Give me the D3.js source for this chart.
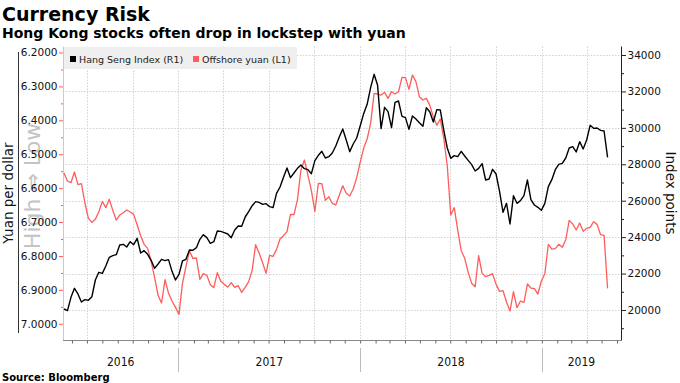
<!DOCTYPE html>
<html><head><meta charset="utf-8">
<script src="https://cdn.jsdelivr.net/npm/d3@7"></script>
<style>body{margin:0;background:#fff}svg{display:block}text{font-family:"DejaVu Sans",sans-serif}</style>
</head><body><svg id="c" width="680" height="383"></svg>
<script>
// ---- data (weekly readings, starting Monday 2016-05-16) ----
const startDate = "2016-05-16";
const hsi = [20055,19964,20696,21190,20879,20440,20568,20531,20733,21647,22068,22013,22416,22892,22983,23038,23569,23606,23459,23752,23587,23935,23130,23258,23057,22727,22288,22526,22782,22709,22764,22123,21647,21958,22691,22782,23294,23280,23423,23880,24136,
23972,23661,23752,24337,24319,24246,24173,23972,24393,24612,24600,25106,25399,25728,25948,25911,25802,25838,25674,25619,26406,26753,27284,27796,27265,27522,27778,27961,27760,27705,27485,28199,28492,28711,28345,28418,28620,29004,29498,29937,
29333,28693,29114,29443,30102,30779,31292,32207,32939,32335,29956,31127,30889,30011,31401,31475,30633,30560,29919,30651,30486,30285,30084,31109,30871,30322,30999,30980,29864,28894,28327,28473,28418,28711,28455,28217,27979,27632,27778,28034,
27137,27193,27723,27467,26515,25362,25857,24722,26277,25857,26003,26277,27137,26058,25765,25637,25472,25857,26772,27156,27705,27998,28053,28345,28894,28968,28675,29242,28840,29334,30139,29974,29990,29864,29828,28382];
const cnh = [6.5554,6.5790,6.5839,6.5524,6.5898,6.5868,6.6438,6.6891,6.7009,6.6920,6.6694,6.6389,6.6576,6.6330,6.6655,6.6940,6.6792,6.6723,6.6645,6.6704,6.6773,6.7087,6.7402,6.7657,6.7775,6.8149,6.8631,6.9161,6.9387,6.8699,6.9102,6.9328,6.9515,6.9722,6.8807,6.8316,6.7854,6.8070,6.8060,6.8690,6.8522,
6.8572,6.8847,6.8935,6.8493,6.8748,6.8837,6.8916,6.8788,6.8926,6.8876,6.9073,6.8926,6.8758,6.8424,6.7667,6.7913,6.8198,6.8513,6.7982,6.8011,6.7805,6.7500,6.7402,6.7284,6.6773,6.6780,6.6340,6.5465,6.5170,6.5613,6.6075,6.6684,6.5858,6.5870,6.6360,6.6252,6.6448,6.6497,6.6212,6.5927,
6.6153,6.6232,6.6026,6.5691,6.5239,6.4826,6.4551,6.4089,6.3204,6.3224,6.3254,6.3175,6.3352,6.3155,6.3224,6.3155,6.2733,6.2740,6.3086,6.2664,6.2860,6.3303,6.3401,6.3352,6.3558,6.3902,6.4148,6.3961,6.4541,6.5347,6.6792,6.6576,6.7235,6.7844,6.8070,6.8483,6.8807,6.8906,6.7991,6.8513,
6.8611,6.8572,6.8522,6.8837,6.9043,6.9024,6.9358,6.9623,6.9053,6.9525,6.9328,6.9368,6.8827,6.8945,6.8965,6.9122,6.8739,6.8522,6.7657,6.7795,6.7785,6.7657,6.7746,6.7520,6.6950,6.7058,6.7235,6.7028,6.7274,6.7186,6.7156,6.6989,6.7068,6.7372,6.7392,6.8955];
const leftTicks = [6.2,6.3,6.4,6.5,6.6,6.7,6.8,6.9,7.0];
const leftMinor = [6.25,6.35,6.45,6.55,6.65,6.75,6.85,6.95];
const rightTicks = [20000,22000,24000,26000,28000,30000,32000,34000];
const rightMinor = [19000,21000,23000,25000,27000,29000,31000,33000];
const xStart = "2016-05-14", xEnd = "2019-06-09";
const seriesNames = ["Hang Seng Index (R1)", "Offshore yuan (L1)"];
const title = "Currency Risk";
const subtitle = "Hong Kong stocks often drop in lockstep with yuan";
const source = "Source: Bloomberg";

// ---- layout ----
const X0 = 63, X1 = 621, Y0 = 46.5, Y1 = 340;
const RED = "#ff5c5c", BLACK = "#000";
const svg = d3.select("#c");
const parse = d3.utcParse("%Y-%m-%d");
const t0 = parse(startDate);
const dates = hsi.map((_, i) => d3.utcDay.offset(t0, 7 * i));
const x = d3.scaleUtc().domain([parse(xStart), parse(xEnd)]).range([X0, X1]);
const yL = d3.scaleLinear().domain([6.2, 7.0]).range([52.5, 323.8]);
const yR = d3.scaleLinear().domain([20000, 34000]).range([310, 55]);
const px = v => Math.round(v) + 0.5;

// titles
svg.append("text").attr("x", 2).attr("y", 21).attr("font-weight", "bold").attr("font-size", 19).text(title);
svg.append("text").attr("x", 2).attr("y", 38).attr("font-weight", "bold").attr("font-size", 14).text(subtitle);

// watermark
svg.append("text").attr("transform", "translate(40,186) rotate(-90)").attr("text-anchor", "middle")
  .attr("font-size", 22).attr("fill", "#c4c4c4").text("High \u21D2 Low");

// grid
const grid = svg.append("g").attr("stroke", "#d2d2d2").attr("stroke-dasharray", "1.5,1.5").attr("stroke-width", 1);
rightTicks.forEach(v => grid.append("line").attr("x1", X0).attr("x2", X1).attr("y1", px(yR(v))).attr("y2", px(yR(v))));
d3.utcMonth.every(3).range(x.domain()[0], x.domain()[1]).forEach(d =>
  grid.append("line").attr("x1", px(x(d))).attr("x2", px(x(d))).attr("y1", Y0).attr("y2", Y1));

// legend
svg.append("rect").attr("x", 64).attr("y", 47).attr("width", 233).attr("height", 22).attr("fill", "#efefef");
const lg = [[70, BLACK, 79], [193, RED, 202]];
seriesNames.forEach((n, i) => {
  svg.append("rect").attr("x", lg[i][0]).attr("y", 56).attr("width", 6).attr("height", 6).attr("fill", lg[i][1]);
  svg.append("text").attr("x", lg[i][2]).attr("y", 62.5).attr("font-size", 9.5).attr("fill", "#222").text(n);
});

// left axis
const gl = svg.append("g").attr("transform", `translate(${X0 + 0.5},0)`);
gl.call(d3.axisLeft(yL).tickValues(leftTicks).tickFormat(d3.format(".4f")).tickSize(4.5).tickPadding(1.5));
gl.select(".domain").remove();
gl.selectAll(".tick line").attr("stroke", RED);
gl.selectAll(".tick text").attr("font-size", 10.5).attr("fill", "#111").attr("font-family", "DejaVu Sans");
const glm = svg.append("g").attr("transform", `translate(${X0 + 0.5},0)`);
glm.call(d3.axisLeft(yL).tickValues(leftMinor).tickSize(2.5).tickFormat(""));
glm.select(".domain").remove();
glm.selectAll(".tick line").attr("stroke", RED);
svg.append("line").attr("x1", X0 + 0.5).attr("x2", X0 + 0.5).attr("y1", Y0).attr("y2", Y1).attr("stroke", "#ffb3b3");
svg.append("line").attr("x1", 18.5).attr("x2", 18.5).attr("y1", 52).attr("y2", 333).attr("stroke", "#333");
svg.append("text").attr("transform", "translate(13,193) rotate(-90)").attr("text-anchor", "middle")
  .attr("font-size", 13.5).attr("fill", "#111").text("Yuan per dollar");

// right axis
const gr = svg.append("g").attr("transform", `translate(${X1 + 0.5},0)`);
gr.call(d3.axisRight(yR).tickValues(rightTicks).tickFormat(d3.format("d")).tickSize(4.5).tickPadding(1.5));
gr.select(".domain").remove();
gr.selectAll(".tick line").attr("stroke", "#222");
gr.selectAll(".tick text").attr("font-size", 10.5).attr("fill", "#111").attr("font-family", "DejaVu Sans");
const grm = svg.append("g").attr("transform", `translate(${X1 + 0.5},0)`);
grm.call(d3.axisRight(yR).tickValues(rightMinor).tickSize(2.5).tickFormat(""));
grm.select(".domain").remove();
grm.selectAll(".tick line").attr("stroke", "#222");
svg.append("line").attr("x1", X1 + 0.5).attr("x2", X1 + 0.5).attr("y1", Y0).attr("y2", Y1).attr("stroke", "#222");
svg.append("text").attr("transform", "translate(666,193) rotate(90)").attr("text-anchor", "middle")
  .attr("font-size", 13.5).attr("fill", "#111").text("Index points");

// x axis
svg.append("line").attr("x1", X0).attr("x2", X1 + 1).attr("y1", Y1 + 0.5).attr("y2", Y1 + 0.5).attr("stroke", "#888");
const gx = svg.append("g").attr("transform", `translate(0,${Y1 + 0.5})`);
gx.call(d3.axisBottom(x).tickValues(d3.utcMonth.range(x.domain()[0], x.domain()[1])).tickSize(3).tickFormat(""));
gx.select(".domain").remove();
gx.selectAll(".tick line").attr("stroke", "#666");
const yb = d3.utcYear.range(x.domain()[0], x.domain()[1]);
yb.forEach(d => svg.append("line").attr("x1", px(x(d))).attr("x2", px(x(d))).attr("y1", 348).attr("y2", 372).attr("stroke", "#bbb"));
const edges = [x.domain()[0], ...yb, x.domain()[1]];
edges.slice(0, -1).forEach((d, i) => {
  const cx = (Math.max(x(d), X0) + Math.min(x(edges[i + 1]), X1)) / 2;
  svg.append("text").attr("x", cx).attr("y", 366).attr("text-anchor", "middle").attr("font-size", 12)
    .attr("font-family", "'DejaVu Sans Condensed','DejaVu Sans',sans-serif").attr("font-stretch", "condensed")
    .attr("fill", "#111").text(d3.utcFormat("%Y")(edges[i + 1] > d ? d3.utcDay.offset(d, 1) : d));
});

// series
const lineR = d3.line().x((d, i) => x(dates[i])).y(d => yL(d));
const lineB = d3.line().x((d, i) => x(dates[i])).y(d => yR(d));
svg.append("path").attr("d", lineR(cnh)).attr("fill", "none").attr("stroke", RED).attr("stroke-width", 1.3).attr("stroke-linejoin", "round");
svg.append("path").attr("d", lineB(hsi)).attr("fill", "none").attr("stroke", BLACK).attr("stroke-width", 1.4).attr("stroke-linejoin", "round");

// source
svg.append("text").attr("x", 2).attr("y", 381).attr("font-weight", "bold").attr("font-size", 10).text(source);
</script></body></html>
